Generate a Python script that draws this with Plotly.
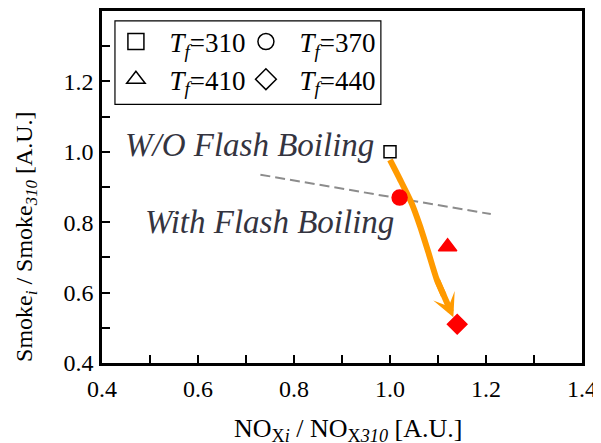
import plotly.graph_objects as go

# ---- data ----
tf_values = [310, 370, 410, 440]
nox_ratio = [1.00, 1.02, 1.12, 1.14]
smoke_ratio = [1.00, 0.87, 0.73, 0.51]
symbols_filled = ["square", "circle", "triangle-up", "diamond"]
symbols_open = ["square-open", "circle-open", "triangle-up-open", "diamond-open"]

# dashed boundary line (data coordinates)
boundary_x = [0.73, 1.21]
boundary_y = [0.935, 0.823]

# curved orange trend arrow (data coordinates)
trend_x = [1.000, 1.021, 1.045, 1.0625, 1.080, 1.097, 1.112]
trend_y = [0.977, 0.921, 0.854, 0.789, 0.714, 0.639, 0.592]
trend_tip = (1.132, 0.530)

x_tick_vals = [0.4, 0.6, 0.8, 1.0, 1.2, 1.4]
x_tick_text = ["0.4", "0.6", "0.8", "1.0", "1.2", "1.4"]
y_tick_vals = [0.4, 0.6, 0.8, 1.0, 1.2]
y_tick_text = ["0.4", "0.6", "0.8", "1.0", "1.2"]

FONT = "'Liberation Serif', 'Times New Roman', Times, serif"
TXT = "#34343f"
ORANGE = "#FF9A00"

fig = go.Figure()

# dashed line
fig.add_trace(go.Scatter(x=boundary_x, y=boundary_y, mode="lines",
                         line=dict(color="#8c8c8c", width=2, dash="10px,5px"),
                         showlegend=False, hoverinfo="skip"))

# curved trend line
fig.add_trace(go.Scatter(x=trend_x, y=trend_y, mode="lines",
                         line=dict(color=ORANGE, width=6, shape="spline", smoothing=0.6),
                         showlegend=False, hoverinfo="skip"))

# data points
marker_colors = ["white", "red", "red", "red"]
line_colors = ["black", "red", "red", "red"]
sizes = [12, 15, 16, 15]
for i in range(len(tf_values)):
    fig.add_trace(go.Scatter(
        x=[nox_ratio[i]], y=[smoke_ratio[i]], mode="markers",
        marker=dict(symbol=symbols_filled[i], size=sizes[i], color=marker_colors[i],
                    line=dict(color=line_colors[i], width=1.5)),
        showlegend=False))

# legend-only traces (open black symbols)
for i in range(len(tf_values)):
    fig.add_trace(go.Scatter(
        x=[None], y=[None], mode="markers",
        name="&nbsp;&nbsp;<i>T</i><sub><i>f</i></sub>=%d" % tf_values[i],
        marker=dict(symbol=symbols_open[i], size=16, color="black",
                    line=dict(color="black", width=1.5)),
        legend="legend" if i < 2 else "legend2"))

# arrow head (last straight segment of the trend arrow)
fig.add_annotation(x=trend_tip[0], y=trend_tip[1], ax=trend_x[-2], ay=trend_y[-2],
                   xref="x", yref="y", axref="x", ayref="y", text="",
                   showarrow=True, arrowhead=3, arrowsize=0.65, arrowwidth=6,
                   arrowcolor=ORANGE, standoff=0)

# text labels
fig.add_annotation(x=0.444, y=1.018, xref="x", yref="y", xanchor="left", yanchor="middle",
                   text="<i>W/O Flash Boiling</i>", showarrow=False,
                   font=dict(family=FONT, size=33, color=TXT))
fig.add_annotation(x=0.485, y=0.80, xref="x", yref="y", xanchor="left", yanchor="middle",
                   text="<i>With Flash Boiling</i>", showarrow=False,
                   font=dict(family=FONT, size=33, color=TXT))

# axis titles
fig.add_annotation(x=0.5125, y=-0.19, xref="paper", yref="paper", showarrow=False,
                   text="NO<sub>X<i>i</i></sub> / NO<sub>X<i>310</i></sub> [A.U.]",
                   xanchor="center", yanchor="middle",
                   font=dict(family=FONT, size=26, color="black"))
fig.add_annotation(x=-0.157, y=0.36, xref="paper", yref="paper", showarrow=False,
                   text="Smoke<sub><i>i</i></sub> / Smoke<sub><i>310</i></sub> [A.U.]",
                   textangle=-90, xanchor="center", yanchor="middle",
                   font=dict(family=FONT, size=24, color="black"))

# legend frame
fig.add_shape(type="rect", xref="paper", yref="paper", x0=0.027, x1=0.581, y0=0.735, y1=0.972,
              line=dict(color="black", width=1.2), fillcolor="rgba(0,0,0,0)")

axis_common = dict(showgrid=False, zeroline=False, showline=True, linecolor="black",
                   linewidth=2.5, mirror=True, ticks="inside", ticklen=8, tickwidth=2,
                   tickcolor="black", range=[0.4, 1.4],
                   tickfont=dict(family=FONT, size=24, color="black"),
                   minor=dict(ticks="inside", ticklen=8, tickwidth=2, tickcolor="black",
                              dtick=0.1, tick0=0.4))

# page body has an 8px margin: offset so the plot area lands at the reference position
fig.update_layout(
    width=593, height=435,
    margin=dict(l=94, r=19, t=0, b=80),
    font=dict(family=FONT),
    paper_bgcolor="white", plot_bgcolor="white",
    xaxis=dict(**axis_common, tickmode="array", tickvals=x_tick_vals, ticktext=x_tick_text,
               ticklabelstandoff=2),
    yaxis=dict(**axis_common, tickmode="array", tickvals=y_tick_vals, ticktext=y_tick_text,
               ticklabelstandoff=1),
    legend=dict(orientation="h", x=0.029, y=0.912, xanchor="left", yanchor="middle",
                entrywidth=85, entrywidthmode="pixels", bgcolor="rgba(0,0,0,0)",
                font=dict(family=FONT, size=27, color="black"), itemclick=False),
    legend2=dict(orientation="h", x=0.029, y=0.805, xanchor="left", yanchor="middle",
                 entrywidth=85, entrywidthmode="pixels", bgcolor="rgba(0,0,0,0)",
                 font=dict(family=FONT, size=27, color="black"), itemclick=False),
    showlegend=True,
)

fig.write_html("out.html")
